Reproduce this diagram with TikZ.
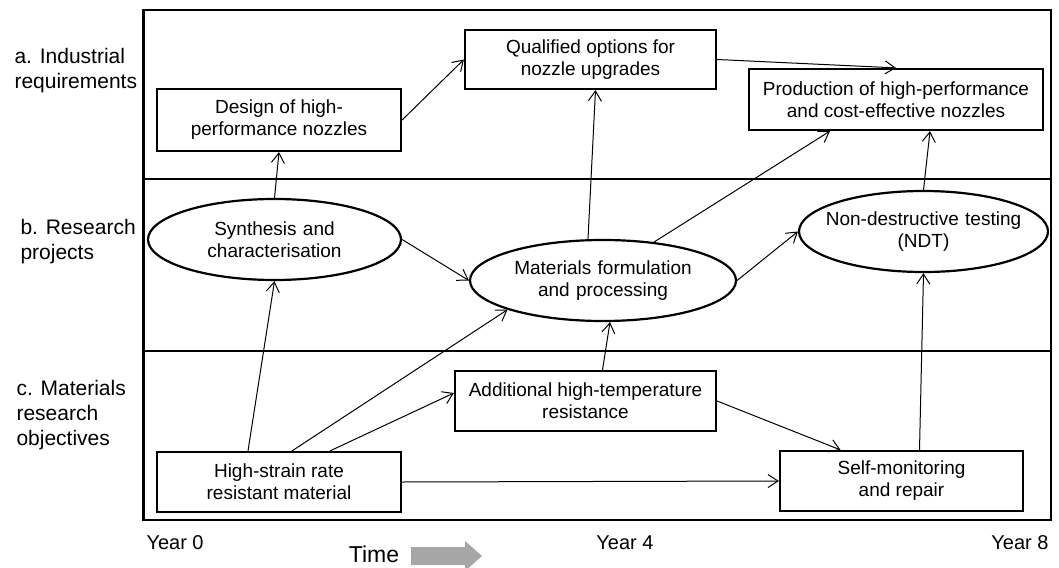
\documentclass[tikz,border=0pt]{standalone}
\usepackage{fontspec}
\setmainfont{Liberation Sans}
\usepackage{xcolor}
\usetikzlibrary{arrows.meta,shapes.geometric}
\definecolor{timegray}{RGB}{166,166,166}
\newcommand{\diagfont}{\fontsize{19}{22}\selectfont}
\newcommand{\lanefont}{\fontsize{21}{25}\selectfont}
\newcommand{\yearfont}{\fontsize{20}{24}\selectfont}

\begin{document}
\begin{tikzpicture}[x = 1pt, y = -1pt,
  box/.style = {draw, line width = 2.2pt, inner sep = 0pt, align = center, font = \diagfont},
  oval/.style = {ellipse, draw, line width = 2.2pt, inner ysep = 0pt, inner xsep = -10pt,
                 text width = 196pt, align = center, font = \diagfont},
  conn/.style = {-{Straight Barb[length = 10pt, width = 13pt]}, line width = 1pt},
  lane/.style = {anchor = west, align = left, font = \lanefont}]
  \useasboundingbox (0,0) rectangle (1059,567);
  % frame and swim lanes
  \draw[line width = 2.8pt] (143.5,10) rectangle (1051,520);
  \draw[line width = 2.8pt] (143.5,179) -- (1051,179);
  \draw[line width = 2.8pt] (143.5,351) -- (1051,351);
  \node[lane] (lanea) at (11,71) {a. Industrial\\requirements};
  \node[lane] (laneb) at (17,242) {b. Research\\projects};
  \node[lane] (lanec) at (13,415) {c. Materials\\research\\objectives};
  % industrial requirements
  \node[box, minimum width = 244pt, minimum height = 62pt] (design) at (279,120) {Design of high-\\performance nozzles};
  \node[box, minimum width = 251pt, minimum height = 59pt] (qual) at (590.5,59.5) {Qualified options for\\nozzle upgrades};
  \node[box, minimum width = 294pt, minimum height = 61pt] (prod) at (896,99.5) {Production of high-performance\\and cost-effective nozzles};
  % research projects
  \node[oval, minimum width = 253pt, minimum height = 81pt] (synth) at (274.5,239.5) {Synthesis and\\characterisation};
  \node[oval, minimum width = 266pt, minimum height = 81pt] (mat) at (603,280.5) {Materials formulation\\and processing};
  \node[oval, minimum width = 249pt, minimum height = 81pt] (ndt) at (923.5,231.5) {Non-destructive testing\\(NDT)};
  % materials research objectives
  \node[box, minimum width = 261pt, minimum height = 60pt] (add) at (585.5,401) {Additional high-temperature\\resistance};
  \node[box, minimum width = 244pt, minimum height = 60pt] (hsr) at (279,482) {High-strain rate\\resistant material};
  \node[box, minimum width = 243pt, minimum height = 60pt] (self) at (901.5,481) {Self-monitoring\\and repair};
  % connectors
  \draw[conn] (synth.north) -- (design.south);
  \draw[conn] (design.east) -- (qual.west);
  \draw[conn] (qual.east) -- (prod.north);
  \draw[conn] ([xshift = -15pt]mat.north) -- ([xshift = 5pt]qual.south);
  \draw[conn] (mat.37) -- ([xshift = -66pt]prod.south);
  \draw[conn] (mat.east) -- (ndt.west);
  \draw[conn] (ndt.north) -- ([xshift = 34pt]prod.south);
  \draw[conn] (synth.east) -- (mat.west);
  \draw[conn] ([xshift = -31pt]hsr.north) -- (synth.south);
  \draw[conn] ([xshift = 13pt]hsr.north) -- (mat.197);
  \draw[conn] ([xshift = 51pt]hsr.north) -- ([yshift = 8pt]add.west);
  \draw[conn] (hsr.east) -- (self.west);
  \draw[conn] ([xshift = 17pt]add.north) -- ([xshift = 7pt]mat.south);
  \draw[conn] (add.east) -- ([xshift = -61pt]self.north);
  \draw[conn] ([xshift = 18pt]self.north) -- (ndt.south);
  % time axis
  \node[anchor = west, font = \yearfont] (year0) at (143,543) {Year 0};
  \node[font = \yearfont] (year4) at (625,543) {Year 4};
  \node[anchor = east, font = \yearfont] (year8) at (1052,543) {Year 8};
  \node[font = \fontsize{23}{27}\selectfont] (time) at (374,554) {Time};
  \fill[timegray] (411,547) -- (465,547) -- (465,541) -- (482,556) -- (465,571) -- (465,565) -- (411,565) -- cycle;
\end{tikzpicture}
\end{document}
